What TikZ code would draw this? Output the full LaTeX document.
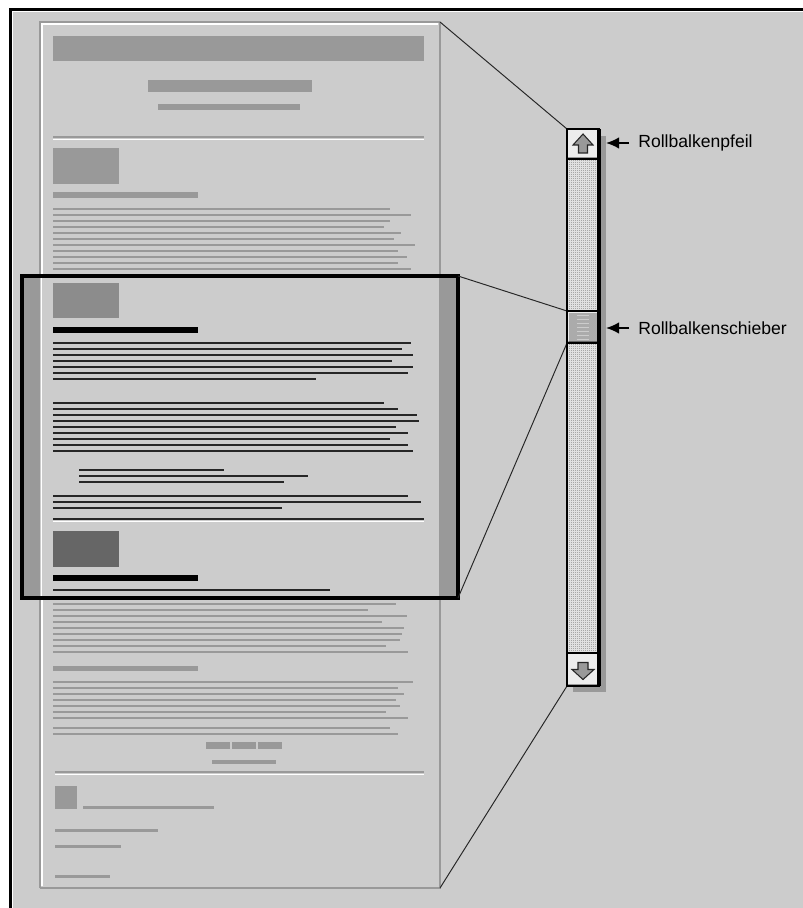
\documentclass[tikz,border=0pt]{standalone}
\usepackage{fontspec}
\setsansfont{Liberation Sans}
\usetikzlibrary{positioning,arrows.meta,calc,fit,patterns}

\definecolor{bggray}{gray}{0.8}
\definecolor{pagegray}{gray}{0.6}
\definecolor{inkgray}{gray}{0.15}
\definecolor{imggray}{gray}{0.55}
\definecolor{imgdark}{gray}{0.4}
\definecolor{btnface}{gray}{0.93}
\definecolor{thumbgray}{gray}{0.67}

% fine stipple for the scroll track
\pgfdeclarepatternformonly{stipple}{\pgfpointorigin}{\pgfpoint{1.2pt}{1.2pt}}{\pgfpoint{1.2pt}{1.2pt}}{%
  \pgfpathrectangle{\pgfpointorigin}{\pgfpoint{0.45pt}{0.45pt}}%
  \pgfpathrectangle{\pgfpoint{0.6pt}{0.6pt}}{\pgfpoint{0.45pt}{0.45pt}}%
  \pgfusepath{fill}}

\begin{document}
\begin{tikzpicture}[
    x=0.02cm, y=-0.02cm,
    >={Latex[length=2.6mm, width=2.3mm]},
    area/.style={fit={#1}, inner sep=0pt, outer sep=0pt},
    lbl/.style={font=\sffamily, inner sep=0pt, anchor=west},
    faint/.style={draw=pagegray, line width=1.1pt},
    ink/.style={draw=inkgray, line width=1.35pt},
    zoomline/.style={draw=black!85, line width=0.55pt},
  ]
    \useasboundingbox (0,0) rectangle (803,908);
    \fill[white] (0,0) rectangle (803,908);
    \fill[bggray] (10,8) rectangle (803,908);
    \draw[line width=1.2pt] (10.5,908) -- (10.5,9.5) -- (803,9.5);
    \draw[white, line width=0.5pt] (12.5,908) -- (12.5,11.5) -- (803,11.5);

    % page
    \node[area={(40,22) (440,888)}] (page) {};
    \draw[pagegray, line width=1.1pt] (page.north east) -- (page.south east) -- (page.south west);
    \draw[pagegray, line width=0.6pt] (page.south west) -- (page.north west) -- (page.north east);
    \draw[white, line width=0.6pt] ($(page.south west)+(2,-2)$) -- ($(page.north west)+(2,2)$) -- ($(page.north east)+(-2,2)$);

    \fill[pagegray] (53,36) rectangle (424,61);
    \fill[pagegray] (148,80) rectangle (312,92);
    \fill[pagegray] (158,104) rectangle (300,110);
    \draw[faint] (53,137) -- (424,137);
    \draw[white, line width=0.6pt] (53,139.5) -- (424,139.5);
    \fill[pagegray] (53,148) rectangle (119,184);
    \fill[pagegray] (53,192) rectangle (198,198);
    \foreach \y/\e in {209/390,215/411,221/390,227/384,233/401,239/394,245/415,251/398,257/407,263/398,269/411}
      \draw[faint] (53,\y) -- (\e,\y);

    \foreach \y/\e in {604/396,610/368,616/407,622/382,628/404,634/402,640/400,646/386,652/408,
                       682/413,688/398,694/404,700/396,706/400,712/386,718/408,728/390,734/398}
      \draw[faint] (53,\y) -- (\e,\y);
    \fill[pagegray] (53,666) rectangle (198,671);
    \foreach \a/\b in {206/230,232/256,258/282}
      \fill[pagegray] (\a,742) rectangle (\b,749);
    \fill[pagegray] (212,760) rectangle (276,764);
    \draw[faint] (55,772) -- (424,772);
    \draw[white, line width=0.6pt] (55,774.5) -- (424,774.5);
    \fill[pagegray] (55,786) rectangle (77,809);
    \fill[pagegray] (83,806) rectangle (214,809);
    \fill[pagegray] (55,829) rectangle (158,832);
    \fill[pagegray] (55,845) rectangle (121,848);
    \fill[pagegray] (55,875) rectangle (110,878);

    % visible window
    \node[area={(22,276) (458,598)}] (win) {};
    \fill[bggray] (win.north west) rectangle (win.south east);
    \fill[pagegray] (24,278) rectangle (40,596);
    \fill[pagegray] (439,278) rectangle (456,596);
    \draw[white, line width=0.6pt] (41.5,278) -- (41.5,596);
    \fill[imggray] (53,283) rectangle (119,318);
    \fill[black] (53,327) rectangle (198,333);
    \foreach \y/\e in {343/411,349/402,355/413,361/392,367/413,373/408,379/316,
                       403/384,409/398,415/417,421/419,427/396,433/408,439/390,445/408,451/413,
                       496/408,502/421,508/282,590/330}
      \draw[ink] (53,\y) -- (\e,\y);
    \foreach \y/\e in {470/224,476/308,482/284}
      \draw[ink] (79,\y) -- (\e,\y);
    \draw[ink] (53,519) -- (424,519);
    \draw[white, line width=0.6pt] (53,521.5) -- (424,521.5);
    \fill[imgdark] (53,531) rectangle (119,567);
    \fill[black] (53,575) rectangle (198,581);
    \draw[black, line width=2.1pt] (win.north west) rectangle (win.south east);

    % scroll bar
    \node[area={(573,136) (606,692)}, fill=pagegray] (shadow) {};
    \node[area={(567,129) (599,686)}] (sbar) {};
    \node[area={(567,129) (599,159)}] (up) {};
    \node[area={(567,311) (599,343)}] (thumb) {};
    \node[area={(567,653) (599,686)}] (down) {};

    \draw[zoomline] (page.north east) -- (up.north west);
    \draw[zoomline] (win.north east) -- (thumb.north west);
    \draw[zoomline] (win.south east) -- (thumb.south west);
    \draw[zoomline] (page.south east) -- (down.south west);

    \fill[white!88!gray] (sbar.north west) rectangle (sbar.south east);
    \fill[pattern=stipple, pattern color=gray] (sbar.north west) rectangle (sbar.south east);

    \fill[btnface] (up.north west) rectangle (up.south east);
    \fill[btnface] (down.north west) rectangle (down.south east);
    \draw[pagegray, line width=0.8pt] ($(up.south west)+(1,-1.5)$) -- ($(up.south east)+(-1.5,-1.5)$) -- ($(up.north east)+(-1.5,1)$);
    \draw[pagegray, line width=0.8pt] ($(down.south west)+(1,-1.5)$) -- ($(down.south east)+(-1.5,-1.5)$) -- ($(down.north east)+(-1.5,1)$);
    \draw[inkgray, fill=pagegray, line width=0.6pt, line join=miter]
      ($(up.center)+(0,-10)$) -- ++(10,11) -- ++(-5.5,0) -- ++(0,8) -- ++(-9,0) -- ++(0,-8) -- ++(-5.5,0) -- cycle;
    \draw[inkgray, fill=pagegray, line width=0.6pt, line join=miter]
      ($(down.center)+(-5,-7)$) -- ++(10,0) -- ++(0,7) -- ++(6,0) -- ++(-11,10) -- ++(-11,-10) -- ++(6,0) -- cycle;

    \fill[thumbgray] (thumb.north west) rectangle (thumb.south east);
    \draw[white!85!gray, line width=0.6pt] ($(thumb.south west)+(1.5,-1.5)$) -- ($(thumb.north west)+(1.5,1.5)$) -- ($(thumb.north east)+(-1.5,1.5)$);
    \draw[imgdark, line width=0.8pt] ($(thumb.south west)+(1.5,-1.5)$) -- ($(thumb.south east)+(-1.5,-1.5)$) -- ($(thumb.north east)+(-1.5,1.5)$);
    \foreach \k in {0,...,6}
      \draw[bggray, line width=0.5pt] ($(thumb.center)+(-6,{-12+4*\k})$) -- ++(12,0);

    \draw[black, line width=1pt] (up.south west) -- (up.south east);
    \draw[black, line width=1pt] (thumb.north west) -- (thumb.north east);
    \draw[black, line width=1pt] (thumb.south west) -- (thumb.south east);
    \draw[black, line width=1pt] (down.north west) -- (down.north east);
    \draw[black, line width=1pt] (sbar.north west) rectangle (sbar.south east);
    \draw[black, line width=1.8pt] (sbar.north east) -- (sbar.south east);

    % labels
    \node[lbl] (lblpfeil) at (638,143) {Rollbalkenpfeil};
    \node[lbl] (lblschieber) at (638,328) {Rollbalkenschieber};
    \draw[->, line width=1pt] ($(lblpfeil.west)+(-9,0)$) -- (lblpfeil.west -| shadow.east);
    \draw[->, line width=1pt] ($(lblschieber.west)+(-9,0)$) -- (lblschieber.west -| shadow.east);
  \end{tikzpicture}
\end{document}
